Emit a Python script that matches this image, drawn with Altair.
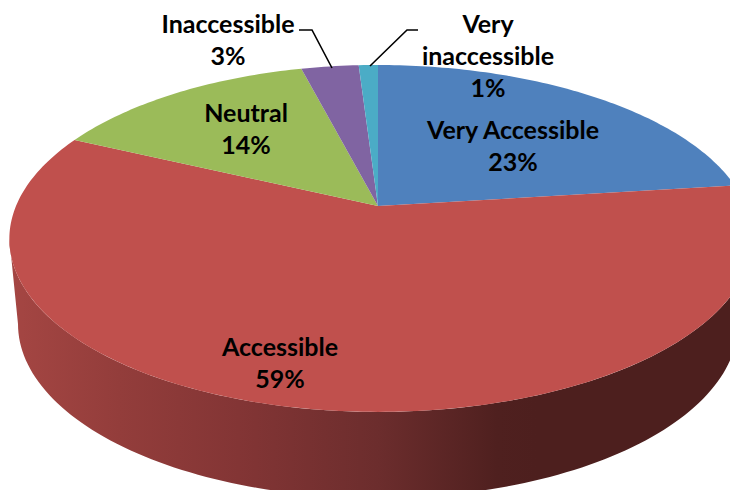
import math
import altair as alt
import pandas as pd

categories = ["Very Accessible", "Accessible", "Neutral", "Inaccessible", "Very inaccessible"]
shares = [23, 59, 14, 3, 1]
colors = ["#4f81bd", "#c0504d", "#9bbb59", "#8064a2", "#4bacc6"]

label_lines = [["Very Accessible", "23%"], ["Accessible", "59%"], ["Neutral", "14%"],
               ["Inaccessible", "3%"], ["Very", "inaccessible", "1%"]]
label_x = [513, 280, 246, 228, 488]
label_y = [131, 348, 114, 25, 25]
LINE_H = 32

leader_x = [[299, 312, 332], [418, 407, 370]]
leader_y = [[30, 30, 68], [30, 30, 66]]

# projection of the tilted disc onto the picture
AX, AY, A, B, K = 378, 206, 365, 167.4, 0.187
BOT_CX, BOT_CY, BOT_RX, BOT_RY = 378, 324, 360, 174


def project(theta_deg):
    t = math.radians(theta_deg)
    X, Y = math.sin(t), math.cos(t)
    d = 1 + K * Y
    return AX + A * X / d + 3 * X * X, AY - B * Y / d


xs = alt.X("x:Q", axis=None, scale=alt.Scale(domain=[8, 730], nice=False, zero=False))
ys = alt.Y("y:Q", axis=None, scale=alt.Scale(domain=[490, 8], nice=False, zero=False))


def polygon(points, fill):
    df = pd.DataFrame(
        {"x": [p[0] for p in points], "y": [p[1] for p in points], "i": list(range(len(points)))}
    )
    return alt.Chart(df).mark_line(fill=fill, strokeWidth=0, stroke="transparent", clip=True).encode(
        x=xs, y=ys, order=alt.Order("i:Q")
    )


# side wall
ext = math.degrees(math.asin(K))
wall = [project(90 + ext + (180 - 2 * ext) * i / 120) for i in range(121)]
for i in range(121):
    a = math.radians(180 + 180 * i / 120)
    wall.append((BOT_CX + BOT_RX * math.cos(a), BOT_CY - BOT_RY * math.sin(a)))
wall.append(wall[0])


def stop(px, color):
    return alt.GradientStop(offset=(px - 9) / (757 - 9), color=color)


wall_fill = alt.Gradient(
    gradient="linear", x1=0, x2=1, y1=0, y2=0,
    stops=[stop(9, "#a54643"), stop(120, "#933d3b"), stop(240, "#833535"),
           stop(380, "#6c2d2d"), stop(500, "#4f201f"), stop(540, "#4d1f1e"), stop(757, "#4d1f1e")],
)
layers = [polygon(wall, wall_fill)]

# top face
start = 0.0
total = sum(shares)
for share, color in zip(shares, colors):
    sweep = 360 * share / total
    steps = max(4, int(sweep))
    pts = [(AX, AY)] + [project(start + sweep * i / steps) for i in range(steps + 1)] + [(AX, AY)]
    layers.append(polygon(pts, color))
    start += sweep

# leader lines
for lx, ly in zip(leader_x, leader_y):
    df = pd.DataFrame({"x": lx, "y": ly, "i": range(len(lx))})
    layers.append(alt.Chart(df).mark_line(color="#000000", strokeWidth=1.6).encode(
        x=xs, y=ys, order=alt.Order("i:Q")))

# labels
rows = []
for lines, x, y in zip(label_lines, label_x, label_y):
    for n, line in enumerate(lines):
        rows.append({"x": x, "y": y + n * LINE_H, "t": line})
layers.append(alt.Chart(pd.DataFrame(rows)).mark_text(
    font="Lato", fontWeight="bold", fontSize=25, color="#000000", align="center", baseline="middle"
).encode(x=xs, y=ys, text="t:N"))

chart = alt.layer(*layers).properties(width=722, height=482, padding=0).configure_view(stroke=None)
chart.save("out.html", embed_options={"renderer": "svg", "actions": False})
